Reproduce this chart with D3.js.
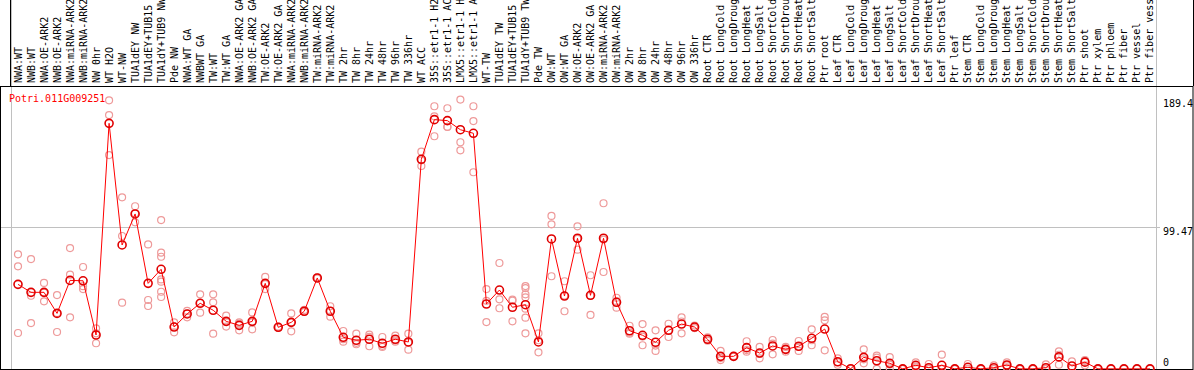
<!DOCTYPE html>
<html>
<head>
<meta charset="utf-8">
<script src="https://cdn.jsdelivr.net/npm/d3@7"></script>
<style>
    body { margin: 0; background: #fff; }
    svg { display: block; }
    text { font-family: "DejaVu Sans Mono", monospace; font-size: 10px; }
</style>
</head>
<body>
<script>
// gene shown in the corner
const geneName = "Potri.011G009251";

// sample labels (as printed, cut to 14 chars)
const samples = [
    "NWA:WT", "NWB:WT", "NWA:OE-ARK2", "NWB:OE-ARK2", "NWA:miRNA-ARK2", "NWB:miRNA-ARK2", "NW 0hr",
    "WT H2O", "WT-NW", "TUA1dEY NW", "TUA1dEY+TUB15", "TUA1dY+TUB9 NW", "Pde NW",
    "NWA:WT GA", "NWBWT GA", "TW:WT", "TW:WT GA", "NWA:OE-ARK2 GA", "NWB:OE-ARK2 GA", "TW:OE-ARK2",
    "TW:OE-ARK2 GA", "NWA:miRNA-ARK2", "NWB:miRNA-ARK2", "TW:miRNA-ARK2", "TW:miRNA-ARK2", "TW 2hr",
    "TW 8hr", "TW 24hr", "TW 48hr", "TW 96hr", "TW 336hr", "WT ACC", "35S::etr1-1 H2", "35S::etr1-1 AC",
    "LMX5::etr1-1 H", "LMX5::etr1-1 A", "WT-TW", "TUA1dEY TW", "TUA1dEY+TUB15", "TUA1dY+TUB9 TW", "Pde TW",
    "OW:WT", "OW:WT GA", "OW:OE-ARK2", "OW:OE-ARK2 GA", "OW:miRNA-ARK2", "OW:miRNA-ARK2", "OW 2hr",
    "OW 8hr", "OW 24hr", "OW 48hr", "OW 96hr", "OW 336hr",
    "Root CTR", "Root LongCold", "Root LongDroug", "Root LongHeat", "Root LongSalt", "Root ShortCold",
    "Root ShortDrou", "Root ShortHeat", "Root ShortSalt", "Ptr root",
    "Leaf CTR", "Leaf LongCold", "Leaf LongDroug", "Leaf LongHeat", "Leaf LongSalt", "Leaf ShortCold",
    "Leaf ShortDrou", "Leaf ShortHeat", "Leaf ShortSalt", "Ptr leaf",
    "Stem CTR", "Stem LongCold", "Stem LongDroug", "Stem LongHeat", "Stem LongSalt", "Stem ShortCold",
    "Stem ShortDrou", "Stem ShortHeat", "Stem ShortSalt", "Ptr shoot", "Ptr xylem",
    "Ptr phloem", "Ptr fiber", "Ptr vessel", "Ptr fiber vess"
];

// number of samples in each experiment block
const groupSizes = [13, 28, 12, 10, 10, 11, 1, 1, 1, 1];

// mean expression per sample
const means = [
    59.5, 53.9, 53.9, 39.1, 62.3, 62.0, 23.9, 172.7, 87.2, 109.0, 60.2, 70.1, 29.5,
    38.7, 46.2, 41.3, 33.5, 30.7, 33.5, 60.2, 29.3, 32.8, 40.6, 64.0, 40.6, 22.3, 20.2, 20.9, 18.1,
    20.9, 19.0, 147.4, 175.3, 174.6, 168.2, 165.7, 45.7, 55.5, 43.4, 45.2, 19.0,
    91.4, 51.3, 91.9, 51.8, 91.9, 46.9, 26.9, 23.7, 18.8, 27.2, 31.6, 29.5,
    20.9, 8.9, 8.9, 15.0, 11.2, 16.2, 13.8, 16.0, 21.6, 28.1,
    5.1, 0.2, 8.2, 5.8, 4.0, 0.1, 2.6, 0.9, 2.6, 0.1,
    1.2, 0.1, 0.9, 2.8, 0.1, 0.1, 0.9, 8.5, 2.1, 4.8, 0.1,
    0.1, 0.1, 0.1, 0.1
];

// individual replicates per sample
const replicates = [
    [80.6, 72.2, 25.3], [77.3, 51.5, 32.3], [60.5, 53.6, 47.6], [52.0, 39.3, 26.0], [85.0, 66.3, 36.3],
    [71.7, 58.2, 56.2], [28.6, 25.1, 18.1], [188.9, 178.5, 150.4], [120.7, 93.5, 46.6], [114.4, 109.5, 103.1],
    [87.6, 48.5, 44.3], [104.7, 81.8, 78.9, 63.0, 61.4, 54.3, 50.6], [32.8, 29.9, 25.8],
    [40.8, 39.0, 36.3], [52.5, 46.5, 39.6], [52.5, 46.9, 24.8], [37.5, 33.2, 29.8], [32.8, 32.0, 27.2],
    [39.8, 32.8, 27.9], [64.7, 59.7, 56.2], [29.8, 29.1, 29.0], [39.1, 32.8, 26.5], [41.5, 40.2, 40.1],
    [64.5, 63.8, 63.7], [44.1, 40.9, 36.8], [26.7, 21.0, 19.2], [24.8, 18.4, 17.4], [24.1, 22.6, 16.0],
    [22.5, 16.3, 15.5], [23.4, 20.1, 19.2], [24.8, 18.6, 13.6], [152.8, 146.7, 142.7], [184.7, 177.6, 163.6],
    [183.3, 170.3, 170.2], [189.4, 159.4, 153.7], [184.7, 174.3, 138.3], [56.2, 47.9, 33.0], [74.5, 49.0, 42.7],
    [48.7, 48.0, 33.5], [58.3, 56.9, 52.5, 50.4, 42.4, 36.1, 25.1], [25.1, 20.2, 11.7],
    [107.6, 101.7, 65.2], [61.7, 51.6, 40.6], [100.3, 91.5, 83.9], [65.9, 51.5, 38.0], [116.5, 91.0, 68.2],
    [50.1, 47.5, 43.1], [30.4, 25.5, 24.8], [31.6, 22.8, 16.7], [27.2, 16.5, 12.7], [31.8, 27.3, 22.5],
    [36.3, 33.4, 25.1], [30.5, 29.2, 28.8],
    [22.2, 20.6, 19.9], [12.7, 7.7, 6.3], [9.2, 8.8, 8.7], [19.5, 13.3, 12.2], [15.5, 10.6, 7.5],
    [20.4, 17.9, 10.3], [15.5, 13.7, 12.2], [19.7, 15.6, 12.7], [27.9, 20.2, 16.7], [36.6, 34.2, 13.1],
    [7.5, 4.8, 3.0], [0.3, 0.2, 0.1], [13.8, 6.8, 4.0], [9.4, 8.0, 0.1], [8.4, 3.1, 0.5],
    [0.1, 0.1, 0.1], [4.7, 1.9, 1.2], [3.5, 0.1, 0.1], [10.1, 0.1, 0.1, 0.1], [0.1, 0.1, 0.1],
    [3.5, 0.1, 0.1], [0.1, 0.1, 0.1], [2.6, 0.1, 0.1], [4.7, 2.6, 1.2], [0.1, 0.1, 0.1],
    [0.1, 0.1, 0.1], [3.3, 0.1, 0.1], [12.4, 10.0, 3.0], [5.4, 0.5, 0.5], [6.3, 5.7, 2.6], [0.1, 0.1, 0.1],
    [0.1], [0.1], [0.1], [0.1]
];

// values printed on the right edge, and the top of the value axis
const yTicks = [189.4, 99.47, 0];
const yTop = 198.94;

const size = { width: 1194, height: 370 };
const plot = { left: 1, right: 1193, top: 86, bottom: 369 };

const svg = d3.select("body").append("svg")
    .attr("width", size.width)
    .attr("height", size.height);

// scales
const x = d3.scaleBand()
    .domain(d3.range(samples.length))
    .range([11.5, 1156.5]);
const cx = (i) => x(i) + x.bandwidth() / 2;

const y = d3.scaleLinear()
    .domain([0, yTop])
    .range([plot.bottom, plot.top]);

const crisp = (v) => Math.floor(v) + 0.5;

// block separators (full height, through the label strip)
const bounds = [0].concat(d3.cumsum(groupSizes));
svg.append("g")
    .selectAll("line")
    .data(bounds)
    .enter()
    .append("line")
    .attr("x1", (d) => crisp(d < samples.length ? x(d) : x.range()[1]))
    .attr("x2", (d) => crisp(d < samples.length ? x(d) : x.range()[1]))
    .attr("y1", 0)
    .attr("y2", plot.bottom)
    .attr("stroke", "#c0c0c0");

// middle value line
svg.append("line")
    .attr("x1", plot.left)
    .attr("x2", 1160)
    .attr("y1", crisp(y(yTicks[1])))
    .attr("y2", crisp(y(yTicks[1])))
    .attr("stroke", "#c0c0c0");

// frames
svg.append("line")
    .attr("x1", 10.5).attr("x2", 10.5)
    .attr("y1", 0).attr("y2", plot.top)
    .attr("stroke", "#000");
svg.append("rect")
    .attr("x", plot.left - 0.5)
    .attr("y", plot.top + 0.5)
    .attr("width", plot.right - plot.left + 0.5)
    .attr("height", plot.bottom - plot.top)
    .attr("fill", "none")
    .attr("stroke", "#000");
svg.append("line")
    .attr("x1", plot.right + 0.5).attr("x2", plot.right + 0.5)
    .attr("y1", 0).attr("y2", plot.top)
    .attr("stroke", "#000");

// sample labels, rotated
svg.append("g")
    .selectAll("text")
    .data(samples)
    .enter()
    .append("text")
    .attr("transform", (d, i) => "translate(" + (cx(i) + 3.5) + ",83) rotate(-90)")
    .attr("fill", "#000")
    .text((d) => d);

// gene name
svg.append("text")
    .attr("x", 9)
    .attr("y", 101.5)
    .attr("fill", "#ff0000")
    .text(geneName);

// value labels on the right
svg.append("g")
    .selectAll("text")
    .data(yTicks)
    .enter()
    .append("text")
    .attr("x", 1163)
    .attr("y", (d) => d > 0 ? y(d) + 7.5 : y(d) - 3.5)
    .attr("fill", "#000")
    .text((d) => d);

// replicate points
const repPoints = [];
replicates.forEach((vals, i) => vals.forEach((v) => repPoints.push({ i: i, v: v })));

svg.append("g")
    .selectAll("circle")
    .data(repPoints)
    .enter()
    .append("circle")
    .attr("cx", (d) => cx(d.i))
    .attr("cy", (d) => y(d.v))
    .attr("r", 3.5)
    .attr("fill", "none")
    .attr("stroke", "#ee9a9a")
    .attr("stroke-width", 1.2);

// mean line
const line = d3.line()
    .x((d, i) => cx(i))
    .y((d) => y(d));

svg.append("path")
    .datum(means)
    .attr("fill", "none")
    .attr("stroke", "#ff0000")
    .attr("stroke-width", 1)
    .attr("d", line);

// mean points
svg.append("g")
    .selectAll("circle")
    .data(means)
    .enter()
    .append("circle")
    .attr("cx", (d, i) => cx(i))
    .attr("cy", (d) => y(d))
    .attr("r", 4)
    .attr("fill", "none")
    .attr("stroke", "#e00000")
    .attr("stroke-width", 1.6);
</script>
</body>
</html>
